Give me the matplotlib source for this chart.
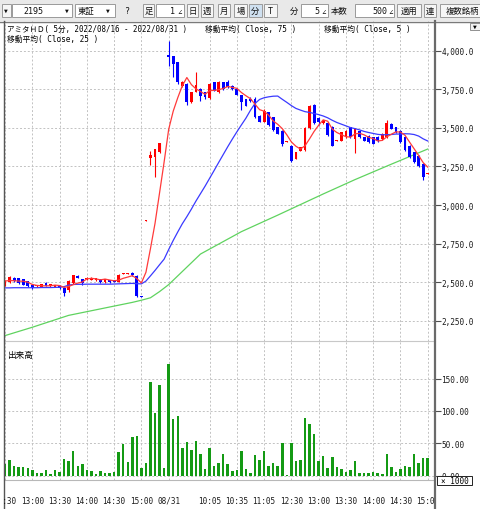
import numpy as np
import matplotlib
matplotlib.use("Agg")
import matplotlib.pyplot as plt
from matplotlib.patches import Rectangle
from matplotlib.lines import Line2D
from matplotlib.transforms import Bbox, TransformedBbox, blended_transform_factory

# monospaced latin like the trading tool, CJK glyphs fall back to Noto
plt.rcParams['font.family'] = ['DejaVu Sans Mono', 'Noto Sans CJK JP']

W, H = 480, 510

# 5-minute bars, 08/30 12:30 .. 08/31 15:00
opens = [2483, 2504, 2530, 2526, 2519, 2506, 2483, 2474, 2472, 2496,
         2476, 2472, 2478, 2465, 2448, 2495, 2541, 2519, 2519, 2515,
         2515, 2519, 2500, 2515, 2512, 2505, 2554, 2555, 2560, 2540,
         2410, 2900, 3307, 3309, 3346, 3404, 3972, 3964, 3925, 3774,
         3785, 3666, 3735, 3752, 3731, 3692, 3795, 3731, 3795, 3800,
         3774, 3752, 3713, 3687, 3690, 3687, 3579, 3540, 3601, 3568,
         3504, 3482, 3410, 3385, 3299, 3353, 3355, 3500, 3645, 3565,
         3530, 3530, 3505, 3415, 3417, 3439, 3504, 3428, 3482, 3439,
         3450, 3440, 3443, 3428, 3440, 3525, 3504, 3480, 3440, 3385,
         3342, 3320, 3266, 3200]
highs = [2512, 2541, 2534, 2528, 2522, 2510, 2487, 2483, 2490, 2500,
         2490, 2485, 2480, 2468, 2515, 2550, 2545, 2522, 2534, 2535,
         2530, 2522, 2522, 2518, 2515, 2556, 2558, 2560, 2565, 2545,
         2410, 2906, 3353, 3365, 3405, 3404, 4065, 3966, 3928, 3806,
         3790, 3735, 3860, 3755, 3735, 3790, 3800, 3805, 3798, 3808,
         3778, 3756, 3716, 3690, 3700, 3698, 3582, 3620, 3605, 3572,
         3508, 3486, 3416, 3388, 3345, 3378, 3505, 3650, 3655, 3570,
         3552, 3535, 3510, 3422, 3475, 3486, 3508, 3497, 3486, 3442,
         3453, 3444, 3446, 3464, 3548, 3530, 3508, 3485, 3445, 3388,
         3345, 3325, 3270, 3207]
lows = [2478, 2496, 2505, 2487, 2480, 2470, 2455, 2470, 2468, 2474,
        2472, 2468, 2455, 2412, 2440, 2490, 2526, 2485, 2515, 2512,
        2510, 2496, 2495, 2496, 2500, 2502, 2552, 2553, 2540, 2408,
        2407, 2900, 3260, 3184, 3340, 3400, 3903, 3830, 3785, 3763,
        3651, 3660, 3730, 3677, 3690, 3688, 3738, 3728, 3748, 3760,
        3748, 3710, 3618, 3640, 3668, 3565, 3535, 3536, 3512, 3480,
        3458, 3385, 3409, 3280, 3296, 3350, 3350, 3495, 3525, 3520,
        3525, 3450, 3380, 3413, 3414, 3436, 3436, 3340, 3436, 3414,
        3402, 3394, 3410, 3424, 3435, 3490, 3468, 3405, 3348, 3302,
        3270, 3248, 3160, 3199]
closes = [2508, 2534, 2508, 2498, 2485, 2478, 2460, 2480, 2487, 2478,
          2487, 2480, 2462, 2430, 2508, 2545, 2530, 2495, 2530, 2528,
          2526, 2500, 2519, 2500, 2503, 2550, 2557, 2558, 2545, 2412,
          2408, 2905, 3324, 3363, 3402, 3400, 3962, 3914, 3795, 3795,
          3666, 3731, 3780, 3709, 3698, 3785, 3741, 3800, 3752, 3763,
          3752, 3713, 3666, 3644, 3672, 3570, 3540, 3612, 3518, 3485,
          3462, 3396, 3415, 3288, 3342, 3374, 3500, 3640, 3530, 3540,
          3548, 3456, 3385, 3420, 3471, 3482, 3440, 3493, 3440, 3418,
          3406, 3398, 3414, 3460, 3530, 3495, 3472, 3410, 3355, 3310,
          3277, 3255, 3180, 3206]
# volume, x1000 shares
volumes = [18, 24.7, 14.4, 13.4, 13.4, 11.8, 8.2, 4.1, 4.1, 8.2,
           2.6, 8.2, 5.1, 25.7, 22.6, 38.6, 15.4, 17.5, 9.3, 7.2,
           2.6, 7.2, 3.6, 3.6, 5.1, 36, 48.4, 21.1, 59.7, 61.2,
           11.8, 20.1, 144, 96.2, 140, 11.8, 172.3, 86.9, 91.6, 42.7,
           51.4, 39.1, 53, 32.9, 10.8, 42.7, 14.4, 20.1, 32.9, 18,
           7.2, 8.7, 38.1, 10.3, 4.6, 31.9, 24.7, 37.6, 14.4, 20.1,
           14.4, 49.9, 1, 49.9, 22.6, 23.7, 88.5, 79.7, 64.3, 22.6,
           30.3, 11.8, 28.3, 13.4, 9.8, 5.1, 8.2, 22.6, 3.6, 3.6,
           3.6, 5.1, 3.6, 2.6, 32.9, 13.4, 5.1, 9.8, 15.4, 13.4,
           32.9, 20.1, 26.7, 27.8]
# moving averages as drawn on the chart
ma5 = [2508, 2512, 2510, 2508, 2507, 2501, 2486, 2480, 2478, 2477,
       2478, 2482, 2479, 2467, 2473, 2485, 2495, 2502, 2522, 2526,
       2522, 2516, 2521, 2515, 2510, 2514, 2526, 2534, 2543, 2524,
       2496, 2565, 2719, 2882, 3080, 3279, 3490, 3608, 3695, 3773,
       3826, 3780, 3753, 3736, 3717, 3741, 3743, 3747, 3755, 3768,
       3762, 3756, 3729, 3708, 3689, 3653, 3618, 3608, 3582, 3545,
       3523, 3495, 3455, 3409, 3381, 3363, 3384, 3429, 3477, 3517,
       3552, 3543, 3492, 3470, 3456, 3443, 3440, 3461, 3465, 3455,
       3439, 3431, 3415, 3419, 3442, 3459, 3474, 3473, 3452, 3408,
       3365, 3321, 3275, 3246]
ma25 = [2464, 2464, 2465, 2465, 2465, 2465, 2465, 2465, 2466, 2466,
        2466, 2467, 2468, 2472, 2482, 2486, 2487, 2487, 2488, 2488,
        2488, 2488, 2488, 2488, 2489, 2490, 2491, 2492, 2493, 2491,
        2490, 2508, 2542, 2577, 2614, 2650, 2712, 2771, 2826, 2879,
        2925, 2974, 3026, 3074, 3122, 3173, 3224, 3276, 3327, 3378,
        3427, 3474, 3519, 3563, 3614, 3658, 3684, 3695, 3701, 3705,
        3706, 3685, 3665, 3644, 3626, 3615, 3605, 3600, 3593, 3586,
        3577, 3565, 3549, 3535, 3524, 3513, 3502, 3495, 3487, 3477,
        3470, 3464, 3458, 3455, 3456, 3457, 3460, 3460, 3462, 3461,
        3457, 3447, 3429, 3415]
ma75_bars = [0, 6, 14, 21, 28, 30, 32, 34, 36, 43, 52, 60, 70, 77, 85, 93]
ma75_vals = [2155, 2209, 2286, 2328, 2370, 2384, 2400, 2440, 2485, 2683,
             2828, 2935, 3072, 3165, 3265, 3363]

tick_bars = [0, 6, 12, 18, 24, 30, 36, 45, 51, 57, 63, 69, 75, 81, 87, 93]
tick_labels = ["12:30", "13:00", "13:30", "14:00", "14:30", "15:00", "08/31",
               "10:05", "10:35", "11:05", "12:30", "13:00", "13:30", "14:00",
               "14:30", "15:00"]
price_ticks = [2250, 2500, 2750, 3000, 3250, 3500, 3750, 4000]
volume_ticks = [0, 50, 100, 150]


def fx(px):
    return px / W


def fy(py):
    return 1 - py / H


fig = plt.figure(figsize=(W / 100, H / 100), dpi=100)
fig.patch.set_facecolor('white')

# ---- toolbar strip ----
tb = fig.add_axes([0, fy(22), 1, 22 / H])
tb.set_xlim(0, W)
tb.set_ylim(22, 0)
tb.axis('off')
tb.add_patch(Rectangle((0, 0), W, 22, facecolor='#e9e9e9', edgecolor='none'))


def tbox(x0, x1, fc='white', ec='#9a9a9a'):
    tb.add_patch(Rectangle((x0, 4.5), x1 - x0, 13, facecolor=fc, edgecolor=ec, linewidth=0.7))


def ttext(xp, s, ha='left', size=6.0):
    tb.text(xp, 11.2, s, fontsize=size, ha=ha, va='center', color='#111111')


tbox(1.5, 10.5, fc='#f6f6f6')
ttext(6, '▼', ha='center', size=4.5)
tbox(12, 72)
ttext(23, '2195')
ttext(66.5, '▼', ha='center', size=4.5)
tbox(75, 115)
ttext(78, '東証')
ttext(108, '▼', ha='center', size=4.5)
ttext(127, '?', ha='center')
for x0, x1, s, fc in [(143, 154, '足', '#f6f6f6'), (187, 198, '日', '#f6f6f6'),
                      (201, 213, '週', '#f6f6f6'), (218, 230, '月', '#f6f6f6'),
                      (234, 247, '場', '#f6f6f6'), (249, 262, '分', '#cfe0f0'),
                      (264, 277, 'T', '#f6f6f6'), (397, 421, '適用', '#f6f6f6'),
                      (424, 436, '連', '#f6f6f6'), (440, 484, '複数銘柄', '#f6f6f6')]:
    tbox(x0, x1, fc=fc)
    ttext((x0 + x1) / 2, s, ha='center')
tbox(156, 184)
ttext(175, '1', ha='right')
ttext(180, '∠', ha='center', size=5.5)
ttext(290, '分')
tbox(301, 328)
ttext(319, '5', ha='right')
ttext(323.5, '∠', ha='center', size=5.5)
ttext(331, '本数')
tbox(355, 394)
ttext(387, '500', ha='right')
ttext(391, '∠', ha='center', size=5.5)

# ---- chart panels ----
ax = fig.add_axes([fx(4), fy(342), fx(435) - fx(4), fy(22) - fy(342)])
axv = fig.add_axes([fx(4), fy(481), fx(435) - fx(4), fy(342) - fy(481)], sharex=ax)

x = np.arange(len(closes))
o = np.array(opens, dtype=float)
c = np.array(closes, dtype=float)
hi = np.array(highs, dtype=float)
lo = np.array(lows, dtype=float)
col = np.where(c >= o, '#ff0000', '#0000ff')

grid_kw = dict(color='#c2c2c2', linestyle=(0, (2, 2)), linewidth=0.7)

ax.plot(ma75_bars, ma75_vals, color='#5fd35f', linewidth=0.9, zorder=2)
ax.vlines(x, lo, hi, colors=col, linewidth=0.8, zorder=3)
ax.bar(x, np.maximum(np.abs(c - o), 5), bottom=np.minimum(o, c), width=0.62,
       color=col, linewidth=0, zorder=3)
ax.plot(x, ma25, color='#3a3aff', linewidth=0.9, zorder=4)
ax.plot(x, ma5, color='#ff3a3a', linewidth=0.9, zorder=4)

ax.set_xlim(-0.23, 94.6)
ax.set_ylim(2120, 4192)
ax.set_xticks(tick_bars)
ax.set_yticks(price_ticks)
ax.set_yticklabels([f"{v:,.1f}" for v in price_ticks])
ax.yaxis.tick_right()
ax.tick_params(axis='x', length=0, labelbottom=False)
ax.tick_params(axis='y', direction='out', length=4, width=0.8, color='#505050',
               labelsize=5.6, pad=0.6, labelcolor='#1a1a1a')
ax.grid(True, **grid_kw)
ax.set_axisbelow(True)

axv.bar(x, volumes, width=0.55, color='#149a14', linewidth=0, zorder=3)
axv.set_ylim(-6.6, 207.9)
axv.set_yticks(volume_ticks)
axv.set_yticklabels([f"{v:.2f}" for v in volume_ticks])
axv.yaxis.tick_right()
axv.tick_params(axis='x', length=0, labelbottom=False)
axv.tick_params(axis='y', direction='out', length=4, width=0.8, color='#505050',
                labelsize=5.6, pad=0.6, labelcolor='#1a1a1a')
axv.grid(True, **grid_kw)
axv.set_axisbelow(True)

for a in (ax, axv):
    for s in a.spines.values():
        s.set_visible(False)

# panel titles
fig.text(fx(7), fy(29), 'アミタＨＤ( 5分, 2022/08/16 - 2022/08/31 )', fontsize=5.45, va='center')
fig.text(fx(205), fy(29), '移動平均( Close, 75 )', fontsize=5.6, va='center')
fig.text(fx(324), fy(29), '移動平均( Close, 5 )', fontsize=5.6, va='center')
fig.text(fx(7), fy(39), '移動平均( Close, 25 )', fontsize=5.6, va='center')
fig.text(fx(7), fy(356), '出来高', fontsize=6.2, va='center')

# time labels along the bottom, clipped to the plot width
clip = TransformedBbox(Bbox([[fx(4), 0], [fx(435), 1]]), fig.transFigure)
trans = blended_transform_factory(axv.transData, fig.transFigure)
for b, lab in zip(tick_bars, tick_labels):
    t = fig.text(b, fy(501.5), lab, transform=trans, ha='center', va='center',
                 fontsize=5.5, color='#1a1a1a', clip_on=True)
    t.set_clip_box(clip)

# frame lines
for xs, ys, colr, lw in [([0, 480], [22.5, 22.5], '#7a7a7a', 1.0),
                         ([4, 435], [342, 342], '#c8c8c8', 0.8),
                         ([4, 435], [481, 481], '#b8b8b8', 0.8),
                         ([3.5, 3.5], [22, 510], '#555555', 1.0),
                         ([435, 435], [22, 510], '#6a6a6a', 1.6)]:
    fig.add_artist(Line2D([fx(v) for v in xs], [fy(v) for v in ys],
                          color=colr, linewidth=lw, transform=fig.transFigure))

# small dropdown button at top right
fig.add_artist(Rectangle((fx(470), fy(31)), fx(480) - fx(470), fy(24) - fy(31),
                         facecolor='#f2f2f2', edgecolor='#909090', linewidth=0.7,
                         transform=fig.transFigure))
fig.text(fx(475), fy(27.5), '▼', fontsize=4.5, ha='center', va='center')

# volume unit box
fig.add_artist(Rectangle((fx(437), fy(485.5)), fx(472) - fx(437), fy(477) - fy(485.5),
                         facecolor='white', edgecolor='#222222', linewidth=0.7,
                         transform=fig.transFigure, zorder=10))
fig.text(fx(454.5), fy(481.3), '× 1000', fontsize=5.5, ha='center', va='center', zorder=11)

fig.savefig('out.png', dpi=100)
